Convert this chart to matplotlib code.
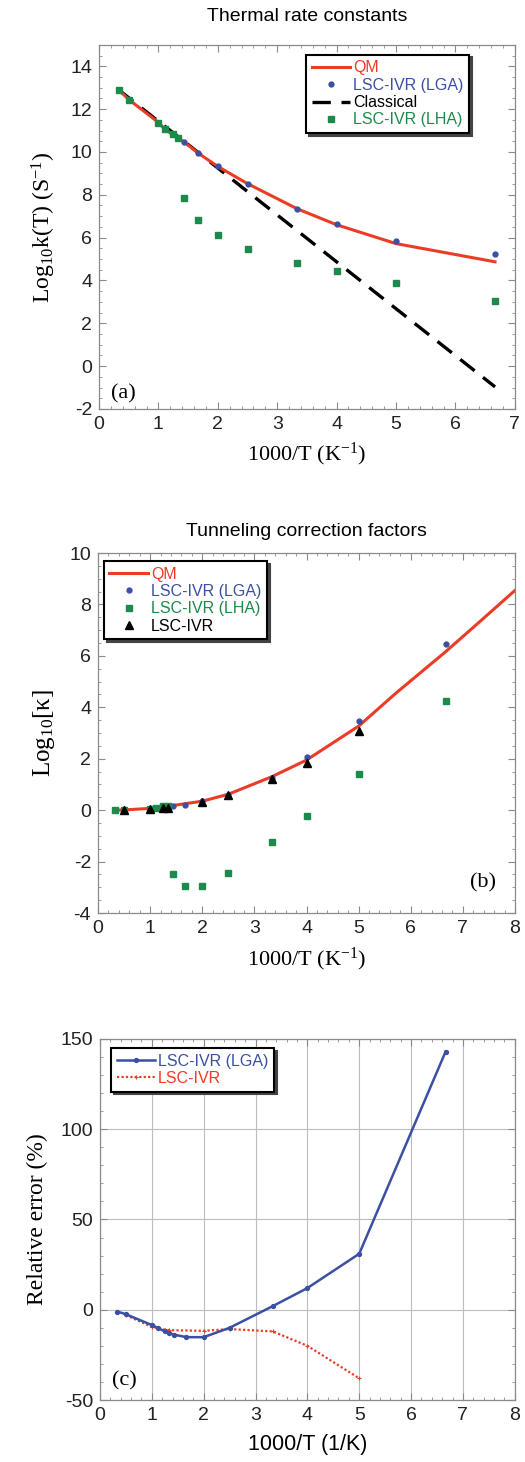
import matplotlib
matplotlib.use("Agg")
import matplotlib.pyplot as plt
from matplotlib.ticker import MultipleLocator, AutoMinorLocator

# ---------------- data ----------------
# Panel (a): thermal rate constants, log10 k(T)
x_a = [0.333, 0.5, 1.0, 1.111, 1.25, 1.333, 1.429, 1.667, 2.0, 2.5, 3.333, 4.0, 5.0, 6.667]
qm_a = [12.9, 12.45, 11.38, 11.05, 10.8, 10.65, 10.47, 9.95, 9.32, 8.52, 7.35, 6.6, 5.72, 4.87]
lga_a = [12.88, 12.42, 11.36, 11.05, 10.82, 10.67, 10.48, 9.97, 9.35, 8.51, 7.35, 6.65, 5.86, 5.24]
classical_a = [12.9, 12.53, 11.43, 11.19, 10.89, 10.71, 10.50, 9.98, 9.25, 8.15, 6.33, 4.87, 2.68, -0.97]
lha_a = [12.88, 12.42, 11.36, 11.05, 10.82, 10.67, 7.84, 6.84, 6.11, 5.49, 4.82, 4.43, 3.86, 3.04]

# Panel (b): tunneling correction factors, log10 kappa
x_qm_b = [0.333, 0.5, 1.0, 1.25, 1.5, 2.0, 2.5, 3.333, 4.0, 5.0, 5.714, 6.667, 7.333, 8.0]
qm_b = [0.0, 0.01, 0.07, 0.13, 0.2, 0.35, 0.62, 1.3, 1.95, 3.27, 4.55, 6.16, 7.35, 8.55]
x_b = [0.333, 0.5, 1.0, 1.111, 1.25, 1.333, 1.429, 1.667, 2.0, 2.5, 3.333, 4.0, 5.0, 6.667]
lga_b = [0.0, 0.0, 0.05, 0.1, 0.12, 0.15, 0.17, 0.22, 0.35, 0.6, 1.25, 2.05, 3.46, 6.46]
lha_b = [0.0, 0.0, 0.05, 0.1, 0.15, 0.15, -2.49, -2.96, -2.94, -2.46, -1.25, -0.23, 1.40, 4.24]
x_tri = [0.5, 1.0, 1.25, 1.333, 2.0, 2.5, 3.333, 4.0, 5.0]
lsc_b = [0.0, 0.03, 0.08, 0.1, 0.32, 0.58, 1.22, 1.84, 3.09]

# Panel (c): relative error (%)
x_c_lga = [0.333, 0.5, 1.0, 1.111, 1.25, 1.333, 1.429, 1.667, 2.0, 2.5, 3.333, 4.0, 5.0, 6.667]
err_lga = [-1.0, -2.5, -8.5, -10.0, -12.0, -13.0, -13.8, -15.2, -15.2, -10.0, 2.0, 12.0, 31.0, 143.0]
x_c_lsc = [0.5, 1.0, 1.25, 1.333, 2.0, 2.5, 3.333, 4.0, 5.0]
err_lsc = [-3.0, -9.5, -11.0, -11.3, -11.7, -10.7, -12.0, -20.0, -38.0]

# ---------------- style ----------------
RED = "#ec3b26"
BLUE = "#3b4fa3"
GREEN = "#1d8a4c"
SPINE = "#8a8a8a"
SANS = ["Liberation Sans", "DejaVu Sans"]
SERIF = ["Liberation Serif", "DejaVu Serif"]

plt.rcParams["font.family"] = SANS
plt.rcParams["axes.unicode_minus"] = False
plt.rcParams["mathtext.fontset"] = "custom"
plt.rcParams["mathtext.rm"] = "Liberation Serif"
plt.rcParams["mathtext.it"] = "Liberation Serif:italic"

fig = plt.figure(figsize=(5.25, 14.62), dpi=100)

ax_a = fig.add_axes([0.1886, 0.7203, 0.792, 0.249])
ax_b = fig.add_axes([0.1867, 0.3755, 0.7943, 0.2462])
ax_c = fig.add_axes([0.1905, 0.0424, 0.790, 0.247])


def style(ax, xmaj, xminor, ymaj, yminor):
    for s in ax.spines.values():
        s.set_color(SPINE)
        s.set_linewidth(0.9)
    ax.xaxis.set_major_locator(MultipleLocator(xmaj))
    ax.xaxis.set_minor_locator(AutoMinorLocator(xminor))
    ax.yaxis.set_major_locator(MultipleLocator(ymaj))
    ax.yaxis.set_minor_locator(AutoMinorLocator(yminor))
    ax.tick_params(which="both", direction="in", top=True, right=True,
                   color=SPINE, labelsize=14, labelcolor="#222222")
    ax.tick_params(which="major", length=5, width=0.8, pad=5)
    ax.tick_params(which="minor", length=2.5, width=0.6)


def legend(ax, anchor, loc, fs=11.5):
    lg = ax.legend(loc=loc, bbox_to_anchor=anchor, frameon=True, fancybox=False,
                   shadow={"color": "#444444", "alpha": 1.0}, borderaxespad=0,
                   fontsize=fs, labelspacing=0.15, handlelength=2.4,
                   handletextpad=0.2, borderpad=0.35)
    lg.get_frame().set_edgecolor("black")
    lg.get_frame().set_linewidth(1.5)
    return lg


# ---------------- panel (a) ----------------
ax = ax_a
ax.plot(x_a, qm_a, color=RED, lw=2.2, label="QM", zorder=3)
ax.plot(x_a, lga_a, ls="none", marker="o", ms=3.5, color=BLUE, label="LSC-IVR (LGA)", zorder=4)
ax.plot(x_a, classical_a, color="black", lw=2.4, ls=(0, (5.5, 3.2)), label="Classical", zorder=2)
ax.plot(x_a, lha_a, ls="none", marker="s", ms=3.8, color=GREEN, label="LSC-IVR (LHA)", zorder=5)
ax.set_xlim(0, 7)
ax.set_ylim(-2, 15)
style(ax, 1, 5, 2, 4)
ax.set_title("Thermal rate constants", fontsize=14, pad=17)
ax.set_xlabel(r"1000/T (K$^{\mathregular{-1}}$)", family=SERIF, fontsize=16, labelpad=6)
ax.set_ylabel(r"Log$_{\mathregular{10}}$k(T) (S$^{\mathregular{-1}}$)", family=SERIF, fontsize=17, labelpad=9)
ax.text(0.03, 0.03, "(a)", transform=ax.transAxes, family=SERIF, fontsize=16)
lg = legend(ax, (0.89, 0.973), "upper right")
for t, c in zip(lg.get_texts(), [RED, BLUE, "black", GREEN]):
    t.set_color(c)

# ---------------- panel (b) ----------------
ax = ax_b
ax.plot(x_qm_b, qm_b, color=RED, lw=2.2, label="QM", zorder=2)
ax.plot(x_b, lga_b, ls="none", marker="o", ms=3.5, color=BLUE, label="LSC-IVR (LGA)", zorder=3)
ax.plot(x_b, lha_b, ls="none", marker="s", ms=3.8, color=GREEN, label="LSC-IVR (LHA)", zorder=4)
ax.plot(x_tri, lsc_b, ls="none", marker="^", ms=6, color="black", label="LSC-IVR", zorder=5)
ax.set_xlim(0, 8)
ax.set_ylim(-4, 10)
style(ax, 1, 5, 2, 4)
ax.set_title("Tunneling correction factors", fontsize=14, pad=12)
ax.set_xlabel(r"1000/T (K$^{\mathregular{-1}}$)", family=SERIF, fontsize=16, labelpad=6)
ax.set_ylabel(r"Log$_{\mathregular{10}}$[κ]", family=SERIF, fontsize=18, labelpad=9)
ax.text(0.893, 0.07, "(b)", transform=ax.transAxes, family=SERIF, fontsize=16)
lg = legend(ax, (0.014, 0.978), "upper left")
for t, c in zip(lg.get_texts(), [RED, BLUE, GREEN, "black"]):
    t.set_color(c)

# ---------------- panel (c) ----------------
ax = ax_c
ax.grid(True, which="major", color="#bdbdbd", lw=0.8, zorder=0)
ax.plot(x_c_lga, err_lga, color=BLUE, lw=1.8, marker="o", ms=2.8, label="LSC-IVR (LGA)", zorder=3)
ax.plot(x_c_lsc, err_lsc, color=RED, lw=1.6, ls=(0, (1, 1)), marker="+", ms=3, mew=0.8,
        label="LSC-IVR", zorder=2)
ax.set_xlim(0, 8)
ax.set_ylim(-50, 150)
style(ax, 1, 5, 50, 5)
ax.set_axisbelow(True)
ax.set_xlabel("1000/T (1/K)", fontsize=15.5, labelpad=7)
ax.set_ylabel("Relative error (%)", family=SERIF, fontsize=17, labelpad=9)
ax.text(0.028, 0.04, "(c)", transform=ax.transAxes, family=SERIF, fontsize=16)
lg = legend(ax, (0.0265, 0.975), "upper left")
for t, c in zip(lg.get_texts(), [BLUE, RED]):
    t.set_color(c)

fig.savefig("out.png", dpi=100)
